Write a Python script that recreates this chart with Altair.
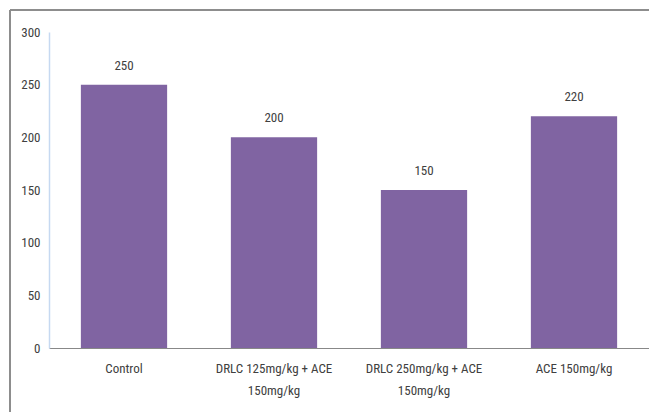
import altair as alt
import pandas as pd

categories = ["Control", "DRLC 125mg/kg + ACE|150mg/kg", "DRLC 250mg/kg + ACE|150mg/kg", "ACE 150mg/kg"]
values = [250, 200, 150, 220]

df = pd.DataFrame({"cat": categories, "val": values})
FONT = "Liberation Sans Narrow, Roboto Condensed, Open Sans, sans-serif"

x = alt.X("cat:N", sort=categories, title=None,
          scale=alt.Scale(paddingInner=0.425, paddingOuter=0.2125),
          axis=alt.Axis(labelAngle=0, labelExpr="split(datum.label, '|')", labelFont=FONT,
                        labelFontSize=13, labelColor="#404040", labelPadding=14,
                        labelLineHeight=22, ticks=False, domainColor="#888888",
                        domainWidth=1.2))
y = alt.Y("val:Q", title=None,
          scale=alt.Scale(domain=[0, 300]),
          axis=alt.Axis(values=[0, 50, 100, 150, 200, 250, 300], grid=False, ticks=False,
                        domainColor="#c6d9f1", domainWidth=1.5, labelFont=FONT,
                        labelFontSize=13, labelColor="#404040", labelPadding=9))

bars = alt.Chart(df).mark_bar(color="#8064a2").encode(x=x, y=y)
labels = alt.Chart(df).mark_text(baseline="bottom", dy=-12, font=FONT, fontSize=13,
                                 color="#404040").encode(x=x, y=y, text="val:Q")

border_left = alt.Chart(df).mark_rule(color="#8c8c8c", strokeWidth=1.5).encode(
    x=alt.value(-39), y=alt.value(-22), y2=alt.value(390))
border_top = alt.Chart(df).mark_rule(color="#8c8c8c", strokeWidth=1.5).encode(
    x=alt.value(-39), x2=alt.value(610), y=alt.value(-22))

chart = alt.layer(bars, labels, border_left, border_top).properties(
    width=600, height=316,
    autosize=alt.AutoSizeParams(type="none"),
    padding={"left": 49, "top": 32, "right": 0, "bottom": 64},
    background="white",
).configure_view(stroke=None)

chart.save("out.html", embed_options={"renderer": "svg", "actions": False})
